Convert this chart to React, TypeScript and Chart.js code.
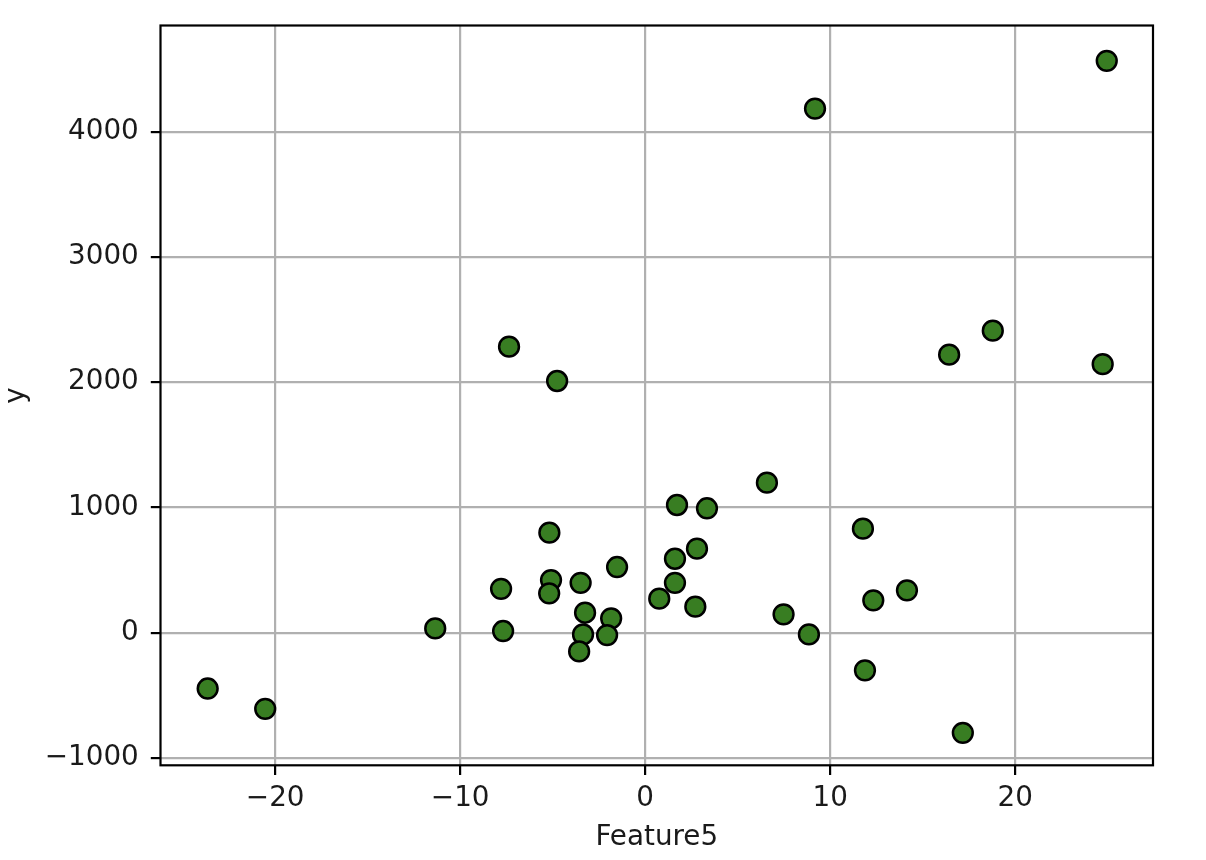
import React, { useEffect, useRef } from "react";
import { Chart, registerables } from "chart.js";

Chart.register(...registerables);

const featureX: number[] = [
  -23.65, -20.54, -11.35, -7.79, -7.68, -7.36, -5.18, -5.09, -5.19, -4.76,
  -3.49, -3.25, -3.36, -3.57, -1.84, -2.06, -1.52, 0.76, 1.61, 1.61,
  1.72, 2.71, 2.8, 3.34, 6.58, 7.48, 8.85, 9.18, 11.77, 11.88,
  12.33, 14.15, 16.43, 17.17, 18.79, 24.73, 24.95,
];
const yValues: number[] = [
  -445, -607, 35, 351, 14, 2284, 799, 421, 315, 2010,
  399, 160, -13, -149, 115, -18, 525, 272, 399, 591,
  1020, 208, 671, 994, 1198, 147, -13, 4185, 831, -300,
  259, 339, 2220, -799, 2412, 2144, 4566,
];
const xTickValues: number[] = [-20, -10, 0, 10, 20];
const yTickValues: number[] = [-1000, 0, 1000, 2000, 3000, 4000];
const xTitle = "Feature5";
const yTitle = "y";

const fmt = (v: number) => (v < 0 ? "\u2212" + Math.abs(v) : String(v));

const framePlugin = {
  id: "frame",
  afterDraw(chart: any) {
    const { ctx, chartArea } = chart;
    ctx.save();
    ctx.strokeStyle = "#000";
    ctx.lineWidth = 2.2;
    ctx.strokeRect(
      chartArea.left,
      chartArea.top,
      chartArea.right - chartArea.left,
      chartArea.bottom - chartArea.top
    );
    ctx.restore();
  },
};

export default function App() {
  const ref = useRef<HTMLCanvasElement | null>(null);
  useEffect(() => {
    if (!ref.current) return;
    const font = { family: "'DejaVu Sans', sans-serif", size: 27.8 };
    const points = featureX.map((x, i) => ({ x, y: yValues[i] }));
    const chart = new Chart(ref.current, {
      type: "scatter",
      data: {
        datasets: [
          {
            data: points,
            backgroundColor: "#387d22",
            borderColor: "#000",
            borderWidth: 2.5,
            pointRadius: 9.9,
            pointHoverRadius: 9.9,
          },
        ],
      },
      options: {
        animation: false,
        responsive: false,
        devicePixelRatio: 1,
        layout: { padding: { top: 25.5, right: 53, bottom: 6, left: 0 } },
        plugins: { legend: { display: false }, tooltip: { enabled: false } },
        scales: {
          x: {
            type: "linear",
            min: -26.2,
            max: 27.45,
            z: 1,
            afterFit: (s: any) => {
              s.height = 88.7;
              s.paddingLeft = 0;
              s.paddingRight = 0;
            },
            afterBuildTicks: (s: any) => {
              s.ticks = xTickValues.map((value) => ({ value }));
            },
            ticks: {
              font,
              color: "#1a1a1a",
              padding: 7,
              maxRotation: 0,
              autoSkip: false,
              callback: (v: any) => fmt(Number(v)),
            },
            grid: {
              color: "#b0b0b0",
              lineWidth: 2.2,
              drawTicks: true,
              tickLength: 9.7,
              tickColor: "#000",
              tickWidth: 2.2,
            },
            border: { display: false },
            title: { display: true, text: xTitle, font, color: "#1a1a1a", padding: 0 },
          },
          y: {
            type: "linear",
            min: -1058,
            max: 4848,
            z: 1,
            afterFit: (s: any) => {
              s.width = 160.5;
              s.paddingTop = 0;
              s.paddingBottom = 0;
            },
            afterBuildTicks: (s: any) => {
              s.ticks = yTickValues.map((value) => ({ value }));
            },
            ticks: {
              font,
              color: "#1a1a1a",
              padding: 12,
              autoSkip: false,
              callback: (v: any) => fmt(Number(v)),
            },
            grid: {
              color: "#b0b0b0",
              lineWidth: 2.2,
              drawTicks: true,
              tickLength: 9.7,
              tickColor: "#000",
              tickWidth: 2.2,
            },
            border: { display: false },
            title: { display: true, text: yTitle, font, color: "#1a1a1a", padding: 0 },
          },
        },
      },
      plugins: [framePlugin],
    });
    return () => chart.destroy();
  }, []);
  return (
    <div style={{ position: "absolute", left: 0, top: 0, width: 1206, height: 860, background: "#fff" }}>
      <canvas ref={ref} width={1206} height={860} style={{ width: 1206, height: 860 }} />
    </div>
  );
}
